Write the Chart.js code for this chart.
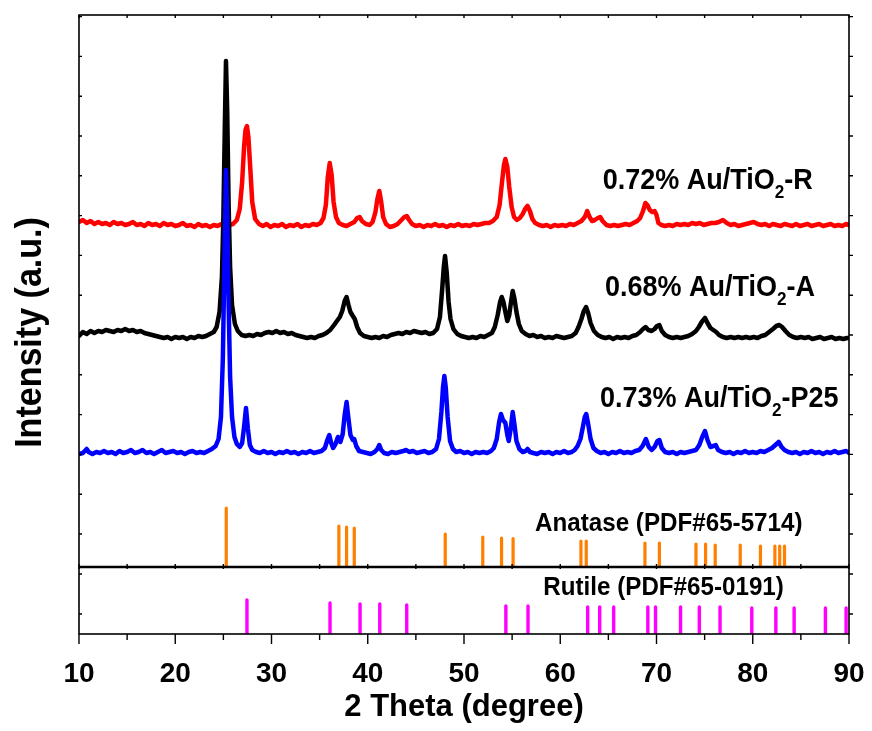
<!DOCTYPE html>
<html><head><meta charset="utf-8">
<script src="https://cdn.jsdelivr.net/npm/chart.js@4.4.1/dist/chart.umd.min.js"></script>
<style>html,body{margin:0;padding:0;background:#fff}#wrap{width:872px;height:731px;position:relative}</style>
</head><body><div id="wrap"><canvas id="c" width="872" height="731"></canvas></div>
<script>
const FONT = "'Liberation Sans', Arial, Helvetica, sans-serif";

// ---- data: [2theta, intensity (a.u., offset stacked)] ----
const patternR = [[10.0,345],[10.4,347],[10.8,344],[11.2,346],[11.6,343],[12.0,345],[12.4,343],[12.8,344],[13.2,342],[13.6,345],[14.0,343],[14.4,344],[14.8,342],[15.2,343],[15.6,345],[16.0,342],[16.4,343],[16.8,341],[17.2,344],[17.6,342],[18.0,343],[18.4,341],[18.8,344],[19.2,342],[19.6,343],[20.0,341],[20.4,342],[20.8,344],[21.2,341],[21.6,342],[22.0,340],[22.4,343],[22.8,341],[23.2,342],[23.6,340],[24.0,342],[24.4,341],[24.8,343],[25.2,340],[25.6,342],[26.0,343],[26.4,347],[26.7,358],[26.95,385],[27.15,420],[27.3,437],[27.45,441],[27.6,430],[27.8,398],[28.0,365],[28.3,348],[28.7,343],[29.1,341],[29.5,343],[29.9,340],[30.3,342],[30.7,341],[31.1,343],[31.5,340],[31.9,342],[32.3,341],[32.7,343],[33.1,340],[33.5,342],[33.9,341],[34.3,343],[34.7,342],[35.1,344],[35.4,349],[35.65,362],[35.85,390],[36.05,404],[36.25,392],[36.45,365],[36.7,350],[37.0,344],[37.4,342],[37.8,341],[38.2,343],[38.6,345],[38.9,349],[39.15,350],[39.4,346],[39.8,343],[40.2,342],[40.5,345],[40.8,355],[41.0,368],[41.2,376],[41.4,365],[41.6,350],[41.9,343],[42.3,340],[42.7,341],[43.1,343],[43.5,347],[43.8,350],[44.05,351],[44.3,347],[44.6,343],[45.0,341],[45.4,342],[45.8,340],[46.2,342],[46.6,341],[47.0,343],[47.4,341],[47.8,342],[48.2,340],[48.6,342],[49.0,341],[49.4,343],[49.8,341],[50.2,342],[50.6,341],[51.0,343],[51.4,342],[51.8,343],[52.2,344],[52.6,344],[53.0,346],[53.4,350],[53.7,362],[53.95,385],[54.15,402],[54.3,408],[54.5,400],[54.7,380],[54.95,360],[55.2,350],[55.5,347],[55.8,349],[56.1,353],[56.35,358],[56.6,361],[56.85,356],[57.1,348],[57.4,344],[57.8,342],[58.2,341],[58.6,342],[59.0,340],[59.4,342],[59.8,341],[60.2,342],[60.6,341],[61.0,343],[61.4,342],[61.8,344],[62.2,346],[62.55,350],[62.8,356],[63.05,350],[63.3,346],[63.6,347],[63.9,349],[64.15,350],[64.4,346],[64.8,342],[65.2,341],[65.6,342],[66.0,341],[66.4,342],[66.8,343],[67.2,342],[67.6,344],[68.0,346],[68.3,349],[68.6,356],[68.85,364],[69.05,362],[69.3,357],[69.55,355],[69.8,356],[70.0,352],[70.2,344],[70.5,342],[70.9,341],[71.3,342],[71.7,341],[72.1,343],[72.5,342],[72.9,343],[73.3,342],[73.7,344],[74.1,343],[74.5,344],[74.9,342],[75.3,343],[75.7,344],[76.1,344],[76.5,345],[76.9,347],[77.3,344],[77.7,342],[78.1,343],[78.5,341],[78.9,342],[79.3,343],[79.7,344],[80.1,345],[80.5,343],[80.9,342],[81.3,343],[81.7,341],[82.1,343],[82.5,342],[82.9,341],[83.3,343],[83.7,342],[84.1,341],[84.5,343],[84.9,341],[85.3,342],[85.7,343],[86.1,341],[86.5,342],[86.9,343],[87.3,341],[87.7,342],[88.1,343],[88.5,341],[88.9,342],[89.3,341],[89.7,343],[90.0,342]];

const patternA = [[10.0,231],[10.4,235],[10.8,233],[11.2,236],[11.6,234],[12.0,236],[12.4,235],[12.8,237],[13.2,236],[13.6,235],[14.0,237],[14.4,236],[14.8,238],[15.2,236],[15.6,237],[16.0,235],[16.4,236],[16.8,234],[17.2,233],[17.6,232],[18.0,231],[18.4,230],[18.8,229],[19.2,230],[19.6,228],[20.0,230],[20.4,229],[20.8,230],[21.2,228],[21.6,230],[22.0,229],[22.4,231],[22.8,230],[23.2,231],[23.6,233],[24.0,235],[24.3,240],[24.6,255],[24.85,290],[25.0,350],[25.15,440],[25.27,506],[25.4,455],[25.55,360],[25.7,300],[25.9,262],[26.2,243],[26.5,236],[26.9,232],[27.3,231],[27.7,232],[28.1,231],[28.5,233],[28.9,232],[29.3,234],[29.7,235],[30.1,234],[30.5,236],[30.9,234],[31.3,235],[31.7,233],[32.1,234],[32.5,232],[32.9,231],[33.3,230],[33.7,229],[34.1,230],[34.5,229],[34.9,231],[35.3,232],[35.7,234],[36.1,237],[36.5,242],[36.8,246],[37.1,250],[37.35,256],[37.6,266],[37.8,270],[38.0,262],[38.2,255],[38.45,251],[38.65,248],[38.9,240],[39.2,234],[39.6,231],[40.0,230],[40.4,229],[40.8,230],[41.2,229],[41.6,231],[42.0,230],[42.4,232],[42.8,233],[43.2,234],[43.6,233],[44.0,235],[44.4,234],[44.8,236],[45.2,235],[45.6,234],[46.0,235],[46.4,233],[46.8,234],[47.2,238],[47.5,250],[47.75,280],[47.9,300],[48.03,311],[48.2,295],[48.4,265],[48.6,248],[48.9,238],[49.3,233],[49.7,231],[50.1,230],[50.5,229],[50.9,230],[51.3,229],[51.7,231],[52.1,230],[52.5,232],[52.9,234],[53.2,240],[53.5,252],[53.75,265],[53.92,270],[54.1,265],[54.3,255],[54.5,246],[54.7,252],[54.9,266],[55.06,276],[55.25,268],[55.45,255],[55.7,243],[56.0,236],[56.4,233],[56.8,231],[57.2,232],[57.6,230],[58.0,231],[58.4,229],[58.8,230],[59.2,229],[59.6,231],[60.0,230],[60.4,229],[60.8,230],[61.2,231],[61.6,234],[61.9,240],[62.2,248],[62.45,256],[62.68,260],[62.9,254],[63.15,244],[63.5,236],[63.9,232],[64.3,230],[64.7,229],[65.1,230],[65.5,228],[65.9,230],[66.3,229],[66.7,230],[67.1,229],[67.5,231],[67.9,232],[68.3,235],[68.6,238],[68.87,240],[69.15,237],[69.5,236],[69.8,238],[70.05,241],[70.3,242],[70.55,236],[70.9,232],[71.3,230],[71.7,229],[72.1,230],[72.5,229],[72.9,230],[73.3,231],[73.7,233],[74.1,236],[74.4,240],[74.7,245],[75.04,249],[75.3,244],[75.6,239],[75.9,237],[76.2,235],[76.5,232],[76.9,230],[77.3,229],[77.7,230],[78.1,229],[78.5,230],[78.9,229],[79.3,230],[79.7,229],[80.1,230],[80.5,229],[80.9,231],[81.3,232],[81.7,235],[82.1,238],[82.45,241],[82.76,242],[83.05,240],[83.4,236],[83.8,232],[84.2,230],[84.6,229],[85.0,230],[85.4,229],[85.8,230],[86.2,228],[86.6,229],[87.0,230],[87.4,228],[87.8,229],[88.2,230],[88.6,228],[89.0,229],[89.4,228],[89.8,229],[90.0,229]];

const patternP25 = [[10.0,113],[10.4,114],[10.8,118],[11.0,115],[11.4,113],[11.8,115],[12.2,114],[12.6,116],[13.0,114],[13.4,115],[13.8,113],[14.2,116],[14.6,114],[15.0,115],[15.4,117],[15.8,114],[16.2,115],[16.6,117],[17.0,114],[17.4,115],[17.8,113],[18.2,115],[18.6,117],[19.0,114],[19.4,115],[19.8,116],[20.2,114],[20.6,115],[21.0,113],[21.4,115],[21.8,116],[22.2,114],[22.6,115],[23.0,114],[23.4,116],[23.8,118],[24.2,121],[24.5,128],[24.75,150],[24.95,210],[25.1,300],[25.27,397],[25.4,350],[25.55,260],[25.7,190],[25.9,150],[26.15,130],[26.4,123],[26.7,120],[26.95,124],[27.15,140],[27.35,159],[27.55,138],[27.75,122],[28.0,117],[28.4,115],[28.8,114],[29.2,116],[29.6,114],[30.0,115],[30.4,113],[30.8,115],[31.2,114],[31.6,116],[32.0,114],[32.4,115],[32.8,113],[33.2,115],[33.6,114],[34.0,116],[34.4,114],[34.8,115],[35.2,116],[35.55,119],[35.8,127],[36.0,132],[36.2,124],[36.4,119],[36.65,123],[36.9,130],[37.15,125],[37.4,133],[37.6,152],[37.8,165],[38.0,148],[38.2,132],[38.45,127],[38.6,128],[38.8,121],[39.1,116],[39.5,115],[39.9,114],[40.3,113],[40.7,115],[41.0,118],[41.2,122],[41.4,117],[41.7,114],[42.1,113],[42.5,115],[42.9,114],[43.3,115],[43.7,116],[44.0,117],[44.3,115],[44.7,116],[45.1,114],[45.5,115],[45.9,116],[46.3,114],[46.7,115],[47.1,118],[47.4,128],[47.65,155],[47.82,180],[47.96,191],[48.1,180],[48.3,150],[48.55,126],[48.85,118],[49.2,115],[49.6,116],[50.0,114],[50.4,115],[50.8,113],[51.2,115],[51.6,114],[52.0,115],[52.4,114],[52.8,116],[53.1,119],[53.4,128],[53.65,145],[53.84,153],[54.05,147],[54.3,144],[54.5,132],[54.65,126],[54.85,138],[55.06,155],[55.25,142],[55.45,126],[55.75,118],[56.1,115],[56.4,116],[56.6,118],[56.85,115],[57.2,114],[57.6,113],[58.0,115],[58.4,114],[58.8,115],[59.2,113],[59.6,115],[60.0,114],[60.4,116],[60.8,114],[61.2,115],[61.5,117],[61.8,121],[62.1,128],[62.35,140],[62.55,150],[62.7,153],[62.9,143],[63.15,128],[63.45,119],[63.8,116],[64.2,114],[64.6,115],[65.0,113],[65.4,115],[65.8,114],[66.2,116],[66.6,114],[67.0,115],[67.4,114],[67.8,116],[68.2,117],[68.55,121],[68.9,128],[69.2,120],[69.5,117],[69.8,120],[70.1,126],[70.3,127],[70.55,119],[70.9,115],[71.3,114],[71.7,115],[72.1,113],[72.5,115],[72.9,114],[73.3,115],[73.7,116],[74.1,117],[74.45,122],[74.75,130],[75.04,136],[75.3,127],[75.6,120],[75.9,121],[76.15,122],[76.4,117],[76.8,115],[77.2,114],[77.6,115],[78.0,113],[78.4,115],[78.8,114],[79.2,116],[79.6,114],[80.0,115],[80.4,114],[80.8,116],[81.2,115],[81.6,117],[82.0,119],[82.35,122],[82.7,125],[83.0,120],[83.3,117],[83.7,115],[84.1,114],[84.5,115],[84.9,113],[85.3,115],[85.7,114],[86.1,116],[86.5,114],[86.9,115],[87.3,113],[87.7,115],[88.1,114],[88.5,116],[88.9,114],[89.3,115],[89.7,116],[90.0,114]];

// reference stick patterns
const anataseTheta = [25.3, 37.0, 37.8, 38.6, 48.05, 51.95, 53.9, 55.1, 62.15, 62.7, 68.8, 70.3, 74.1, 75.1, 76.1, 78.7, 80.8, 82.3, 82.8, 83.3];
const anataseI     = [59, 41, 40, 39, 33, 30, 29, 28.5, 26, 26, 24, 24, 23, 23, 22, 22, 21, 21, 21, 21];
const rutileTheta  = [27.45, 36.08, 39.2, 41.25, 44.05, 54.35, 56.65, 62.85, 64.1, 65.55, 69.1, 69.9, 72.5, 74.45, 76.6, 79.9, 82.4, 84.3, 87.55, 89.7];
const rutileI      = [34, 31, 30, 30, 29, 28, 28, 27, 27, 27, 27, 27, 27, 27, 27, 26, 26, 26, 26, 26];

// labels
const sampleMain   = ['0.72% Au/TiO', '0.68% Au/TiO', '0.73% Au/TiO'];
const sampleSuffix = ['-R', '-A', '-P25'];
const sampleLabelTheta = [64.41, 64.65, 64.13];
const sampleLabelI     = [378, 271, 159.7];
const refLabels      = ['Anatase (PDF#65-5714)', 'Rutile (PDF#65-0191)'];
const refLabelTheta  = [57.38, 58.24];
const refLabelI      = [36.3, 39.3];

// axis ticks
const thetaTicks = [10, 20, 30, 40, 50, 60, 70, 80, 90];
const topPanelTicks = [33, 72.8, 112.6, 152.4, 192.2, 232, 271.8, 311.6, 351.4, 391.2, 431, 470.8, 510.6, 550.4];
const bottomPanelTicks = [20, 60];

function toXY(p) { return p.map(d => ({x: d[0], y: d[1]})); }
function sticks(th, h) {
  const out = [];
  th.forEach((t, i) => { out.push({x: t, y: 0}, {x: t, y: h[i]}, {x: t, y: null}); });
  return out;
}

const lineBase = {type: 'line', pointRadius: 0, borderWidth: 4.5, tension: 0, borderJoinStyle: 'round', borderCapStyle: 'round', fill: false, yAxisID: 'yTop'};

function drawRich(ctx, x, y, parts, size, sx) {
  ctx.save();
  ctx.translate(x, y);
  ctx.scale(sx, 1);
  let cx = 0;
  for (const p of parts) {
    const fs = p.sub ? Math.round(size * 0.64) : size;
    ctx.font = 'bold ' + fs + 'px ' + FONT;
    ctx.fillText(p.t, cx, p.sub ? size * 0.3 : 0);
    cx += ctx.measureText(p.t).width;
  }
  ctx.restore();
}

const decor = {
  id: 'decor',
  afterDatasetsDraw(chart) {
    const {ctx, chartArea: ca, scales} = chart;
    const x = scales.x, yT = scales.yTop, yB = scales.yBot;
    ctx.save();
    ctx.fillStyle = '#000';
    ctx.textBaseline = 'alphabetic';
    ctx.textAlign = 'left';
    sampleMain.forEach((m, i) => {
      drawRich(ctx, x.getPixelForValue(sampleLabelTheta[i]), yT.getPixelForValue(sampleLabelI[i]),
        [{t: m}, {t: '2', sub: true}, {t: sampleSuffix[i]}], 30, 0.9);
    });
    drawRich(ctx, x.getPixelForValue(refLabelTheta[0]), yT.getPixelForValue(refLabelI[0]), [{t: refLabels[0]}], 26, 0.93);
    drawRich(ctx, x.getPixelForValue(refLabelTheta[1]), yB.getPixelForValue(refLabelI[1]), [{t: refLabels[1]}], 26, 0.93);

    // y axis title
    ctx.save();
    ctx.translate(31, (ca.top + ca.bottom) / 2 + 8);
    ctx.rotate(-Math.PI / 2);
    ctx.scale(0.92, 1);
    ctx.font = 'bold 37px ' + FONT;
    ctx.textAlign = 'center';
    ctx.textBaseline = 'middle';
    ctx.fillText('Intensity (a.u.)', 0, 0);
    ctx.restore();

    // frame
    ctx.strokeStyle = '#000';
    ctx.lineWidth = 1.6;
    ctx.strokeRect(ca.left, ca.top, ca.right - ca.left, ca.bottom - ca.top);
    const yDiv = yT.getPixelForValue(0);
    ctx.lineWidth = 2.4;
    ctx.beginPath(); ctx.moveTo(ca.left, yDiv); ctx.lineTo(ca.right, yDiv); ctx.stroke();
    // ticks
    ctx.lineWidth = 1.4;
    ctx.beginPath();
    for (let i = 0; i < thetaTicks.length; i++) {
      const t = thetaTicks[i];
      const px = x.getPixelForValue(t);
      ctx.moveTo(px, ca.bottom); ctx.lineTo(px, ca.bottom + 10);
      ctx.moveTo(px, ca.top); ctx.lineTo(px, ca.top + 3);
      ctx.moveTo(px, yDiv - 3); ctx.lineTo(px, yDiv + 2);
      if (i < thetaTicks.length - 1) {
        const pm = x.getPixelForValue((t + thetaTicks[i + 1]) / 2);
        ctx.moveTo(pm, ca.bottom); ctx.lineTo(pm, ca.bottom + 6);
        ctx.moveTo(pm, ca.top); ctx.lineTo(pm, ca.top + 3);
        ctx.moveTo(pm, yDiv - 3); ctx.lineTo(pm, yDiv + 2);
      }
    }
    for (const v of topPanelTicks) {
      const py = yT.getPixelForValue(v);
      ctx.moveTo(ca.left, py); ctx.lineTo(ca.left + 3, py);
      ctx.moveTo(ca.right, py); ctx.lineTo(ca.right + 4, py);
    }
    for (const v of bottomPanelTicks) {
      const py = yB.getPixelForValue(v);
      ctx.moveTo(ca.left, py); ctx.lineTo(ca.left + 3, py);
      ctx.moveTo(ca.right, py); ctx.lineTo(ca.right + 4, py);
    }
    ctx.stroke();
    ctx.restore();
  }
};

new Chart(document.getElementById('c'), {
  type: 'line',
  data: {
    datasets: [
      Object.assign({}, lineBase, {label: '0.73% Au/TiO2-P25', data: toXY(patternP25), borderColor: '#0000FF', order: 1}),
      Object.assign({}, lineBase, {label: '0.68% Au/TiO2-A', data: toXY(patternA), borderColor: '#000000', order: 2}),
      Object.assign({}, lineBase, {label: '0.72% Au/TiO2-R', data: toXY(patternR), borderColor: '#FF0000', order: 3}),
      {type: 'line', label: 'Anatase', data: sticks(anataseTheta, anataseI), borderColor: '#FF7F00', borderWidth: 3.2, pointRadius: 0, spanGaps: false, borderCapStyle: 'round', yAxisID: 'yTop', order: 4},
      {type: 'line', label: 'Rutile', data: sticks(rutileTheta, rutileI), borderColor: '#FF00FF', borderWidth: 3.4, pointRadius: 0, spanGaps: false, borderCapStyle: 'round', yAxisID: 'yBot', order: 5}
    ]
  },
  options: {
    responsive: false,
    animation: false,
    devicePixelRatio: 1,
    layout: {padding: {left: 0, top: 15, right: 23, bottom: 0}},
    plugins: {legend: {display: false}, tooltip: {enabled: false}},
    scales: {
      x: {
        type: 'linear', min: 10, max: 90, offset: false,
        grid: {display: false, drawTicks: false}, border: {display: false},
        afterBuildTicks: s => { s.ticks = thetaTicks.map(v => ({value: v})); },
        ticks: {color: '#000', font: {family: FONT, size: 28, weight: 'bold'}, padding: 23, maxRotation: 0, autoSkip: false},
        title: {display: true, text: '2 Theta (degree)', color: '#000', font: {family: FONT, size: 31, weight: 'bold'}, padding: {top: 0, bottom: 5}},
        afterFit: s => { s.height = 97; s.paddingLeft = 0; s.paddingRight = 0; }
      },
      yBot: {
        type: 'linear', position: 'left', stack: 'v', stackWeight: 67, min: 0, max: 67,
        grid: {display: false, drawTicks: false}, border: {display: false}, ticks: {display: false},
        afterFit: s => { s.width = 79; }
      },
      yTop: {
        type: 'linear', position: 'left', stack: 'v', stackWeight: 552, min: 0, max: 552,
        grid: {display: false, drawTicks: false}, border: {display: false}, ticks: {display: false},
        afterFit: s => { s.width = 79; }
      }
    }
  },
  plugins: [decor]
});
</script>
</body></html>
